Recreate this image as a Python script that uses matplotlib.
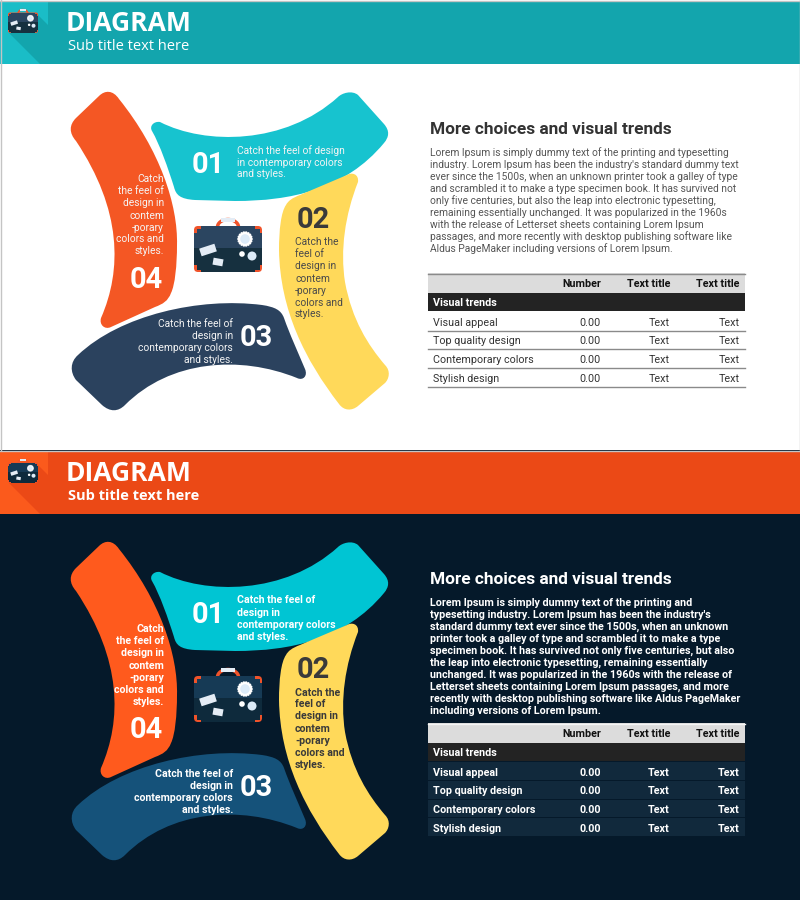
import numpy as np
import matplotlib
matplotlib.use('Agg')
import matplotlib.pyplot as plt
from matplotlib.path import Path
from matplotlib.patches import PathPatch, Rectangle, Polygon, Circle, FancyBboxPatch

plt.rcParams['font.family'] = ['Roboto', 'DejaVu Sans']

OFFSET = 450

# text content
TITLE = 'DIAGRAM'
SUBTITLE = 'Sub title text here'
HEADING = 'More choices and visual trends'
NUMBERS = ['01', '02', '03', '04']
BODY_LIGHT = [
    'Lorem Ipsum is simply dummy text of the printing and typesetting',
    "industry. Lorem Ipsum has been the industry's standard dummy text",
    'ever since the 1500s, when an unknown printer took a galley of type',
    'and scrambled it to make a type specimen book. It has survived not',
    'only five centuries, but also the leap into electronic typesetting,',
    'remaining essentially unchanged. It was popularized in the 1960s',
    'with the release of Letterset sheets containing Lorem Ipsum',
    'passages, and more recently with desktop publishing software like',
    'Aldus PageMaker including versions of Lorem Ipsum.',
]
BODY_DARK = [
    'Lorem Ipsum is simply dummy text of the printing and',
    "typesetting industry. Lorem Ipsum has been the industry's",
    'standard dummy text ever since the 1500s, when an unknown',
    'printer took a galley of type and scrambled it to make a type',
    'specimen book. It has survived not only five centuries, but also',
    'the leap into electronic typesetting, remaining essentially',
    'unchanged. It was popularized in the 1960s with the release of',
    'Letterset sheets containing Lorem Ipsum passages, and more',
    'recently with desktop publishing software like Aldus PageMaker',
    'including versions of Lorem Ipsum.',
]
TEXT_01_LIGHT = ['Catch the feel of design', 'in contemporary colors', 'and styles.']
TEXT_01_DARK = ['Catch the feel of', 'design in', 'contemporary colors', 'and styles.']
TEXT_02 = ['Catch the', 'feel of', 'design in', 'contem', '-porary', 'colors and', 'styles.']
TEXT_03 = ['Catch the feel of', 'design in', 'contemporary colors', 'and styles.']
TEXT_04 = ['Catch', 'the feel of', 'design in', 'contem', '-porary', 'colors and', 'styles.']

# table
TABLE_COLUMNS = ['Number', 'Text title', 'Text title']
TABLE_SECTION = 'Visual trends'
TABLE_ROWS = ['Visual appeal', 'Top quality design', 'Contemporary colors', 'Stylish design']
TABLE_NUMBER = ['0.00', '0.00', '0.00', '0.00']
TABLE_TEXT = ['Text', 'Text', 'Text', 'Text']

# outlines of the four arms in pixels of the top panel:
# start point, then one point for a line or three for a bezier
ARM_01 = [[(160, 122)],
          [(205, 145), (285, 145), (338, 97)],
          [(342, 93), (352, 90), (358, 95)],
          [(384, 124)],
          [(390, 131), (389, 137), (384, 143)],
          [(345, 190), (290, 201), (235, 201)],
          [(195, 200)],
          [(180, 199), (176, 195), (174, 187)],
          [(168, 168), (160, 145), (152, 131)],
          [(149, 126), (154, 121), (160, 122)]]
ARM_02 = [[(347, 175)],
          [(352, 172), (359, 174), (358, 182)],
          [(345, 215), (340, 250), (345, 282)],
          [(352, 320), (368, 345), (385, 365)],
          [(391, 371), (389, 379), (385, 383)],
          [(358, 406)],
          [(352, 411), (344, 411), (339, 404)],
          [(305, 360), (280, 310), (279, 250)],
          [(279, 230), (281, 212), (286, 205)],
          [(288, 201), (292, 198), (300, 195)],
          [(347, 175)]]
ARM_03 = [[(297, 378)],
          [(303, 381), (308, 376), (305, 369)],
          [(297, 350), (290, 335), (284, 318)],
          [(281, 310), (275, 307), (262, 305)],
          [(200, 297), (120, 315), (78, 355)],
          [(70, 362), (70, 372), (76, 380)],
          [(102, 405)],
          [(110, 412), (118, 412), (125, 405)],
          [(170, 360), (240, 355), (297, 378)]]
ARM_04 = [[(99, 96)],
          [(105, 90), (113, 90), (119, 99)],
          [(160, 150), (178, 205), (177, 245)],
          [(177, 265), (175, 285), (171, 293)],
          [(168, 301), (163, 304), (155, 307)],
          [(111, 327)],
          [(105, 330), (99, 325), (101, 318)],
          [(122, 270), (122, 210), (76, 141)],
          [(69, 133), (69, 125), (76, 118)],
          [(99, 96)]]

LIGHT = dict(bg='white', head='#13a5ad', head_light='#1abdc7', teal='#17c3cf', yellow='#ffd95a',
             navy='#2b425e', orange='#f45724', heading='#333333', body='#555555',
             num2='#3a3a3a', txt2='#4a4a4a', arm_text='#f4f4f4', weight='normal',
             case_top='#2b4560', case_low='#16303f')
DARK = dict(bg='#05192a', head='#eb4916', head_light='#fb5a1c', teal='#00c5d3', yellow='#ffd95a',
            navy='#15527a', orange='#ff5a1d', heading='white', body='white',
            num2='#3a3a3a', txt2='#3a3a3a', arm_text='white', weight='bold',
            case_top='#163a55', case_low='#0e2a3c')


def arm_path(arm, dy):
    verts = [(arm[0][0][0], arm[0][0][1] + dy)]
    codes = [Path.MOVETO]
    for seg in arm[1:]:
        verts += [(x, y + dy) for x, y in seg]
        codes += [Path.LINETO] if len(seg) == 1 else [Path.CURVE4] * 3
    verts.append(verts[0])
    codes.append(Path.CLOSEPOLY)
    return Path(verts, codes)


def add_text(ax, x, y, s, px, color, ha='left', weight='normal', family=None):
    # y is the visual centre of the line, px the font size in pixels
    ax.text(x, y + px * 0.36, s, fontsize=px * 0.72, color=color, ha=ha, va='baseline',
            fontweight=weight, family=family)


def draw_suitcase(ax, left, top, scale, st, z=5):
    def X(v):
        return left + v * scale

    def Y(v):
        return top + v * scale

    def box(x0, y0, x1, y1, color, zz):
        ax.add_patch(Rectangle((X(x0), Y(y0)), (x1 - x0) * scale, (y1 - y0) * scale, color=color, lw=0, zorder=zz))

    # handle
    t = np.radians(np.linspace(180, 360, 30))
    ax.plot(X(34) + 10.5 * scale * np.cos(t), Y(9) + 7.5 * scale * np.sin(t), color='#f0532a',
            lw=2.2 * scale + 0.3, zorder=z)
    box(27, 0, 41, 3.5, '#e4ecf5', z + 1)
    # orange rounded body, only its corners stay visible
    ax.add_patch(FancyBboxPatch((X(0), Y(8)), 68 * scale, 46 * scale,
                                boxstyle='round,pad=0,rounding_size=%.2f' % (4 * scale),
                                color='#f0532a', lw=0, zorder=z + 1))
    for (y0, y1, color) in ((8, 30, st['case_top']), (30, 54, st['case_low'])):
        a0, a1 = max(y0, 10.5), min(y1, 51.5)
        b0, b1 = max(y0, 15), min(y1, 47)
        box(7, y0, 61, y1, color, z + 2)
        box(2.5, a0, 65.5, a1, color, z + 2)
        box(0, b0, 68, b1, color, z + 2)
    # badge
    for a in np.radians(np.arange(0, 360, 20)):
        ax.add_patch(Circle((X(51) + 6.5 * scale * np.cos(a), Y(21) + 6.5 * scale * np.sin(a)), 1.3 * scale,
                            color='white', lw=0, zorder=z + 3))
    ax.add_patch(Circle((X(51), Y(21)), 6.5 * scale, color='white', lw=0, zorder=z + 3))
    ax.add_patch(Circle((X(51), Y(21)), 4.8 * scale, color='#dcebf8', lw=0, zorder=z + 4))
    ax.add_patch(Circle((X(48), Y(36)), 2.8 * scale, color='white', lw=0, zorder=z + 3))
    ax.add_patch(Circle((X(58), Y(38)), 4.5 * scale, color='#dcebf8', lw=0, zorder=z + 3))
    # stickers
    for cx, cy, w, h, deg in ((14, 32, 16, 8, -18), (24, 44, 10, 7, 10)):
        r = np.radians(deg)
        c, s = np.cos(r), np.sin(r)
        corners = [(-w / 2, -h / 2), (w / 2, -h / 2), (w / 2, h / 2), (-w / 2, h / 2)]
        pts = [(X(cx + a * c - b * s), Y(cy + a * s + b * c)) for a, b in corners]
        ax.add_patch(Polygon(pts, closed=True, color='#e4ecf5', lw=0, zorder=z + 3))


def draw_table(ax, dy, st):
    x0, x1 = 428, 745
    dark = st is DARK
    ax.add_patch(Rectangle((x0, 273 + dy), x1 - x0, 20, color='#dcdcdc', lw=0, zorder=2))
    ax.plot([x0, x1], [273.5 + dy] * 2, color='#f5f5f5' if dark else '#8a8a8a', lw=1, zorder=3)
    ax.add_patch(Rectangle((x0, 293 + dy), x1 - x0, 18, color='#232323', lw=0, zorder=2))
    col_x = [601, 670, 739.5]
    for x, c in zip(col_x, TABLE_COLUMNS):
        add_text(ax, x, 283.5 + dy, c, 10.8, '#111111', ha='right', weight='bold')
    add_text(ax, 433, 302.5 + dy, TABLE_SECTION, 10.8, 'white', weight='bold')
    row_y = [322, 340.5, 359, 378]
    lines = [330, 348.5, 367, 386]
    txt = 'white' if dark else '#333333'
    weight = 'bold' if dark else 'normal'
    tops = [311.5, 331, 349.5, 368]
    for i, label in enumerate(TABLE_ROWS):
        if dark:
            ax.add_patch(Rectangle((x0, tops[i] + dy), x1 - x0, lines[i] - tops[i], color='#11293c', lw=0, zorder=2))
        else:
            ax.plot([x0, x1], [lines[i] + 0.5] * 2, color='#8a8a8a', lw=1, zorder=3)
        add_text(ax, 433, row_y[i] + dy, label, 10.8, txt, weight=weight)
        add_text(ax, col_x[0], row_y[i] + dy, TABLE_NUMBER[i], 10.8, txt, ha='right', weight=weight)
        add_text(ax, col_x[1], row_y[i] + dy, TABLE_TEXT[i], 10.8, txt, ha='right', weight=weight)
        add_text(ax, col_x[2], row_y[i] + dy, TABLE_TEXT[i], 10.8, txt, ha='right', weight=weight)


def draw_panel(ax, dy, st):
    dark = st is DARK
    ax.add_patch(Rectangle((0, dy), 800, 450, color=st['bg'], lw=0, zorder=0))
    # header band with lighter corner and long shadow
    ax.add_patch(Rectangle((0, dy + 1), 800, 63, color=st['head'], lw=0, zorder=1))
    corner = [(0, 1), (48, 1), (48, 25), (37, 14), (9, 33), (40, 64), (0, 64)]
    ax.add_patch(Polygon([(x, y + dy) for x, y in corner], closed=True, color=st['head_light'], lw=0, zorder=2))
    draw_suitcase(ax, 8, 9 + dy, 0.44, st)
    header_font = ['Open Sans', 'DejaVu Sans']
    add_text(ax, 66, 21.5 + dy, TITLE, 26.5, 'white', weight='bold', family=header_font)
    add_text(ax, 68, 44.5 + dy, SUBTITLE, 14.6, 'white', weight='bold' if dark else 'normal', family=header_font)

    for arm, color in ((ARM_01, st['teal']), (ARM_02, st['yellow']), (ARM_03, st['navy']), (ARM_04, st['orange'])):
        ax.add_patch(PathPatch(arm_path(arm, dy), facecolor=color, edgecolor='none', zorder=3))
    draw_suitcase(ax, 194, 218 + dy, 1.0, st)

    w = st['weight']
    fs = 10.5 if dark else 10.2
    add_text(ax, 208, 163 + dy, NUMBERS[0], 29, 'white', ha='center', weight='bold')
    add_text(ax, 313, 218 + dy, NUMBERS[1], 29, st['num2'], ha='center', weight='bold')
    add_text(ax, 256, 336 + dy, NUMBERS[2], 29, 'white', ha='center', weight='bold')
    add_text(ax, 146.5, 278 + dy, NUMBERS[3], 29, 'white', ha='center', weight='bold')

    if dark:
        for y, s in zip([599, 612, 624, 636], TEXT_01_DARK):
            add_text(ax, 237, y + dy - 450, s, fs, st['arm_text'], weight=w)
        ys2 = [y - 450 for y in [692, 703, 715, 728, 740, 752, 764]]
        ys3 = [y - 450 for y in [773, 785, 797, 809]]
        ys4 = [y - 450 for y in [628, 640, 652, 665, 677, 689, 701]]
    else:
        for y, s in zip([150, 162, 173], TEXT_01_LIGHT):
            add_text(ax, 237, y + dy, s, fs, st['arm_text'], weight=w)
        ys2 = [241, 253, 265, 278, 290, 302, 313]
        ys3 = [323, 335, 347, 359]
        ys4 = [178, 190, 202, 215, 227, 238, 250]
    for y, s in zip(ys2, TEXT_02):
        add_text(ax, 295, y + dy, s, fs, st['txt2'], weight=w)
    for y, s in zip(ys3, TEXT_03):
        add_text(ax, 233, y + dy, s, fs, st['arm_text'], ha='right', weight=w)
    for y, s in zip(ys4, TEXT_04):
        add_text(ax, 164, y + dy, s, fs, st['arm_text'], ha='right', weight=w)

    add_text(ax, 429.5, 128 + dy, HEADING, 17.3, st['heading'], weight='bold')
    body = BODY_DARK if dark else BODY_LIGHT
    body_px = 10.7 if dark else 10.2
    for i, s in enumerate(body):
        add_text(ax, 429.5, 152 + 12 * i + dy, s, body_px, st['body'], weight=w)
    draw_table(ax, dy, st)


def main():
    fig = plt.figure(figsize=(8, 9), dpi=100)
    ax = fig.add_axes([0, 0, 1, 1])
    ax.set_xlim(0, 800)
    ax.set_ylim(900, 0)
    ax.axis('off')
    draw_panel(ax, 0, LIGHT)
    draw_panel(ax, OFFSET, DARK)
    # thin frame of the screenshot
    ax.plot([0.5, 0.5], [0, 450], color='#c4c4c4', lw=1, zorder=9)
    ax.plot([799.5, 799.5], [0, 450], color='#c4c4c4', lw=1, zorder=9)
    ax.plot([0, 800], [0.5, 0.5], color='#c4c4c4', lw=1, zorder=9)
    ax.plot([0, 800], [450.5, 450.5], color='#c4c4c4', lw=1, zorder=9)
    fig.savefig('out.png', dpi=100)


if __name__ == '__main__':
    main()
